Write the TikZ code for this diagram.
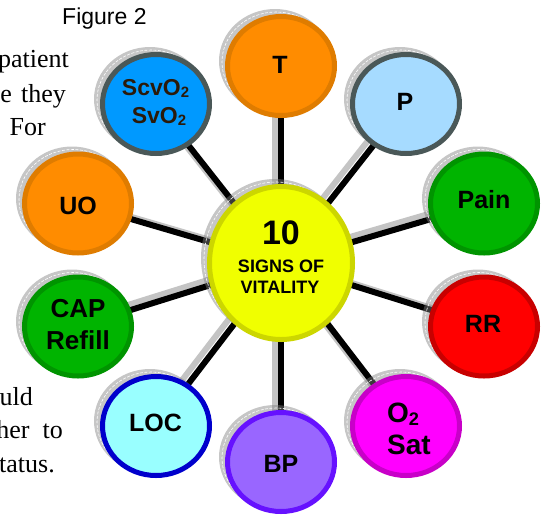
\documentclass[tikz,border=0pt]{standalone}
\usepackage{fontspec}
\setmainfont{Liberation Serif}
\setsansfont{Liberation Sans}
\usetikzlibrary{shapes.geometric}
\pgfdeclarelayer{linelayer}
\pgfdeclarelayer{shadlayer}
\pgfsetlayers{linelayer,shadlayer,main}
\definecolor{orF}{HTML}{FF8C00}\definecolor{orB}{HTML}{DF7C00}
\definecolor{pF}{HTML}{A6DBFF}\definecolor{slB}{HTML}{4A5858}
\definecolor{gF}{HTML}{00B400}\definecolor{gB}{HTML}{009400}
\definecolor{rF}{HTML}{FF0000}\definecolor{rB}{HTML}{C80000}
\definecolor{mF}{HTML}{FF00FF}\definecolor{mB}{HTML}{C800C8}
\definecolor{vF}{HTML}{9966FF}\definecolor{vB}{HTML}{6611FF}
\definecolor{cyF}{HTML}{99FFFF}\definecolor{cyB}{HTML}{0000CC}
\definecolor{bF}{HTML}{0099FF}
\definecolor{yF}{HTML}{F0FF00}\definecolor{yB}{HTML}{CCD600}
\definecolor{brownT}{HTML}{2B1A0A}
\definecolor{lineshad}{HTML}{C4C4C4}
\newcommand\subtwo{\raisebox{-0.12em}{\scalebox{0.65}{2}}}
\begin{document}
\begin{tikzpicture}[x=1pt,y=-1pt,
  sat/.style={ellipse, line width=5pt, minimum width=107pt, minimum height=99pt, inner sep=0pt},
  hub/.style={ellipse, line width=5pt, minimum width=143pt, minimum height=153pt, inner sep=0pt},
  lbl/.style={font=\sffamily\bfseries\fontsize{25}{30}\selectfont, inner sep=0pt, anchor=base},
  txt/.style={font=\fontsize{26}{31}\selectfont, inner sep=0pt, anchor=base east},
  spoke/.style={line width=6pt, black},
  spokeshadow/.style={line width=6pt, lineshad},
  cshadow/.style={fill=gray, opacity=0.45},
]
\useasboundingbox (0,0) rectangle (548,515);
\clip (0,0) rectangle (548,515);

% background text fragments
\node[txt] (w1) at (69,67) {patient};
\node[txt] (w2) at (66,102) {e\hspace{9pt}they};
\node[txt] (w3) at (46,135) {For};
\node[txt] (w4) at (33,405) {uld};
\node[txt] (w5) at (63,438) {her\hspace{13pt}to};
\node[txt] (w6) at (55,472) {tatus.};
\node[anchor=base west, inner sep=0pt, font=\sffamily\fontsize{23}{28}\selectfont] (fig) at (62,24) {Figure 2};

% circles
\node[hub, fill=yF, draw=yB] (c) at (281,263) {};
\node[sat, fill=orF, draw=orB] (t) at (281,66) {};
\node[sat, fill=pF, draw=slB] (p) at (406,104) {};
\node[sat, fill=gF, draw=gB] (pain) at (484,203.5) {};
\node[sat, fill=rF, draw=rB] (rr) at (484,326.5) {};
\node[sat, fill=mF, draw=mB] (o2) at (406,426) {};
\node[sat, fill=vF, draw=vB] (bp) at (281,462) {};
\node[sat, fill=cyF, draw=cyB] (loc) at (156,426) {};
\node[sat, fill=gF, draw=gB] (cap) at (78,326.5) {};
\node[sat, fill=orF, draw=orB] (uo) at (78,203.5) {};
\node[sat, fill=bF, draw=slB] (scv) at (156,104) {};

% shadows of circles
\begin{pgfonlayer}{shadlayer}
  \fill[cshadow] ([shift={(-6,-5)}]c.center) ellipse [x radius=74, y radius=79];
  \draw[white, line width=0.6pt, dash pattern=on 3pt off 1.5pt] ([shift={(-5,-4)}]c.center) ellipse [x radius=72, y radius=77];
  \foreach \n in {t,p,pain,rr,o2,bp,loc,cap,uo,scv}{
    \fill[cshadow] ([shift={(-6,-5)}]\n.center) ellipse [x radius=56, y radius=52];
    \draw[white, line width=0.6pt, dash pattern=on 3pt off 1.5pt] ([shift={(-5,-4)}]\n.center) ellipse [x radius=54, y radius=50];
  }
\end{pgfonlayer}

% spokes
\begin{pgfonlayer}{linelayer}
  \foreach \n in {t,p,pain,rr,o2,bp,loc,cap,uo,scv}{
    \draw[spokeshadow, transform canvas={shift={(-6pt,4pt)}}] (c.center) -- (\n.center);
  }
  \foreach \n in {t,p,pain,rr,o2,bp,loc,cap,uo,scv}{
    \draw[spoke] (c.center) -- (\n.center);
  }
\end{pgfonlayer}

% labels
\node[lbl] (tl) at (280,73) {T};
\node[lbl] (pl) at (405,110) {P};
\node[lbl] (painl) at (484,208) {Pain};
\node[lbl] (rrl) at (483,332) {RR};
\node[lbl] (uol) at (78,214) {UO};
\node[lbl] (locl) at (155.5,431) {LOC};
\node[lbl] (bpl) at (281,472) {BP};
\node[lbl, font=\sffamily\bfseries\fontsize{26}{30}\selectfont] (capl1) at (78,317) {CAP};
\node[lbl, font=\sffamily\bfseries\fontsize{26}{30}\selectfont] (capl2) at (78,349) {Refill};
\node[lbl, anchor=base west, font=\sffamily\bfseries\fontsize{28}{32}\selectfont] (o2l1) at (387,422) {O\subtwo};
\node[lbl, anchor=base west, font=\sffamily\bfseries\fontsize{28}{32}\selectfont] (o2l2) at (387,454) {Sat};
\node[lbl, text=brownT, font=\sffamily\bfseries\fontsize{23}{28}\selectfont] (scvl1) at (155.5,95) {ScvO\subtwo};
\node[lbl, text=brownT, font=\sffamily\bfseries\fontsize{23}{28}\selectfont] (scvl2) at (159,123) {SvO\subtwo};
\node[lbl, font=\sffamily\bfseries\fontsize{34}{40}\selectfont] (cl1) at (281,244) {10};
\node[lbl, font=\sffamily\bfseries\fontsize{18}{22}\selectfont] (cl2) at (281,272) {SIGNS OF};
\node[lbl, font=\sffamily\bfseries\fontsize{18}{22}\selectfont] (cl3) at (280,293) {VITALITY};
\end{tikzpicture}
\end{document}
